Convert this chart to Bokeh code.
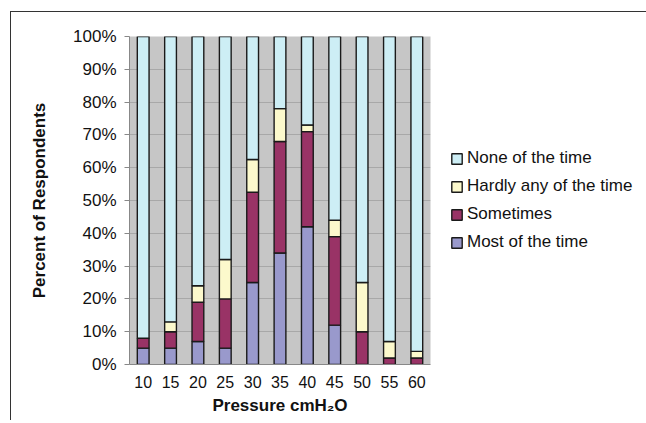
from bokeh.plotting import figure
from bokeh.models import FactorRange, Range1d, Legend, LegendItem, FixedTicker
from bokeh.embed import file_html
from bokeh.resources import INLINE

pressures = ["10", "15", "20", "25", "30", "35", "40", "45", "50", "55", "60"]
most = [5, 5, 7, 5, 25, 34, 42, 12, 0, 0, 0]
sometimes = [3, 5, 12, 15, 27.5, 34, 29, 27, 10, 2, 2]
hardly = [0, 3, 5, 12, 10, 10, 2, 5, 15, 5, 2]
none = [100 - a - b - c for a, b, c in zip(most, sometimes, hardly)]
y_ticks = [0, 10, 20, 30, 40, 50, 60, 70, 80, 90, 100]

series = ["Most of the time", "Sometimes", "Hardly any of the time", "None of the time"]
colors = ["#9999cc", "#993366", "#fcf9cc", "#cdeef5"]

data = dict(p=pressures, m=most, s=sometimes, h=hardly, n=none)

FONT = "Liberation Sans"

p = figure(x_range=FactorRange(*pressures, range_padding=0), y_range=Range1d(0, 100),
           frame_width=301, frame_height=328, output_backend="svg", toolbar_location=None,
           min_border_left=118, min_border_top=24, min_border_right=203, min_border_bottom=56)
p.styles = {"margin-left": "10px", "margin-top": "11px",
            "border-left": "1px solid #333", "border-top": "1px solid #333"}

rs = p.vbar_stack(["m", "s", "h", "n"], x="p", width=0.43, source=data,
                  color=colors, line_color="#1a1a1a", line_width=1.4)

p.background_fill_color = "#c6c6c6"
p.outline_line_color = None
p.xgrid.grid_line_color = None
p.ygrid.grid_line_color = "#a8a8a8"
p.ygrid.ticker = FixedTicker(ticks=y_ticks)

p.yaxis.ticker = FixedTicker(ticks=y_ticks)
p.yaxis.major_label_overrides = {v: f"{v}%" for v in y_ticks}
p.yaxis.minor_tick_line_color = None
p.yaxis.major_tick_in = 0
p.yaxis.major_tick_out = 5
p.yaxis.major_tick_line_color = "#888888"
p.yaxis.axis_line_color = "#888888"
p.yaxis.major_label_standoff = 8
p.yaxis.major_label_text_font = FONT
p.yaxis.major_label_text_font_size = "17px"
p.yaxis.major_label_text_color = "#111111"
p.yaxis.axis_label = "Percent of Respondents"
p.yaxis.axis_label_text_font = FONT
p.yaxis.axis_label_text_font_style = "bold"
p.yaxis.axis_label_text_font_size = "17px"
p.yaxis.axis_label_text_color = "#111111"
p.yaxis.axis_label_standoff = 21

p.xaxis.major_tick_in = 0
p.xaxis.major_tick_out = 0
p.xaxis.axis_line_color = "#888888"
p.xaxis.major_label_standoff = 11
p.xaxis.major_label_text_font = FONT
p.xaxis.major_label_text_font_size = "16px"
p.xaxis.major_label_text_color = "#111111"
p.xaxis.axis_label = "Pressure cmH\u2082O"
p.xaxis.axis_label_text_font = FONT
p.xaxis.axis_label_text_font_style = "bold"
p.xaxis.axis_label_text_font_size = "17px"
p.xaxis.axis_label_text_color = "#111111"
p.xaxis.axis_label_standoff = 5

items = [LegendItem(label=series[i], renderers=[rs[i]]) for i in [3, 2, 1, 0]]
legend = Legend(items=items, location=(20, 112), padding=0, margin=0,
                glyph_width=13, glyph_height=13, label_standoff=4, spacing=8,
                label_height=20, label_text_font=FONT, label_text_font_size="17px",
                label_text_color="#111111", background_fill_alpha=0, border_line_color=None)
p.add_layout(legend, "right")

open("out.html", "w").write(file_html(p, INLINE))
